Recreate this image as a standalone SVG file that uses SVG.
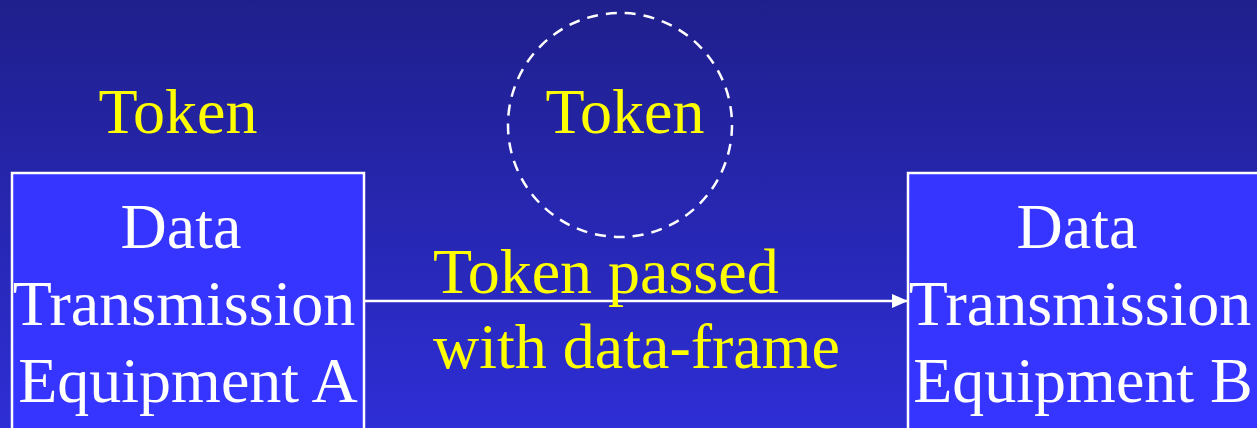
<svg xmlns="http://www.w3.org/2000/svg" width="1257" height="428" viewBox="0 0 1257 428">
  <defs>
    <linearGradient id="bg" x1="0" y1="0" x2="0" y2="1">
      <stop offset="0" stop-color="#1f1f8c"/>
      <stop offset="1" stop-color="#2e2ed6"/>
    </linearGradient>
    <marker id="arrow" viewBox="0 0 16 14" refX="16" refY="7" markerWidth="16" markerHeight="14" markerUnits="userSpaceOnUse" orient="auto">
      <path d="M0,0 L16,7 L0,14 Z" fill="#ffffff"/>
    </marker>
    <style>
      .box { fill: #3535ff; stroke: #ffffff; stroke-width: 2.5; }
      .label { font-family: "Liberation Serif", "Times New Roman", serif; font-size: 64px; text-anchor: middle; }
      .white { fill: #ffffff; }
      .yellow { fill: #ffff00; }
      .conn { stroke: #ffffff; stroke-width: 2.5; fill: none; }
    </style>
  </defs>

  <rect x="0" y="0" width="1257" height="428" fill="url(#bg)"/>

  <!-- token held by equipment A -->
  <g id="token-a">
    <text class="label yellow" x="178" y="133">Token</text>
  </g>

  <!-- token in transit -->
  <g id="token-transit">
    <circle cx="620" cy="125" r="112" fill="none" stroke="#ffffff" stroke-width="2.5" stroke-dasharray="11 8"/>
    <text class="label yellow" x="625" y="133">Token</text>
  </g>

  <g id="equipment-a">
    <rect class="box" x="12" y="173" width="352" height="270"/>
    <text class="label white" x="181" y="248">Data</text>
    <text class="label white" x="184" y="325">Transmission</text>
    <text class="label white" x="188" y="402">Equipment A</text>
  </g>

  <g id="equipment-b">
    <rect class="box" x="908" y="173" width="370" height="270"/>
    <text class="label white" x="1077" y="248">Data</text>
    <text class="label white" x="1080" y="325">Transmission</text>
    <text class="label white" x="1083" y="402">Equipment B</text>
  </g>

  <g id="connectors">
    <line class="conn" x1="365" y1="301" x2="908" y2="301" marker-end="url(#arrow)"/>
    <text class="label yellow" x="433" y="293" style="text-anchor:start">Token passed</text>
    <text class="label yellow" x="433" y="368" style="text-anchor:start">with data-frame</text>
  </g>
</svg>
